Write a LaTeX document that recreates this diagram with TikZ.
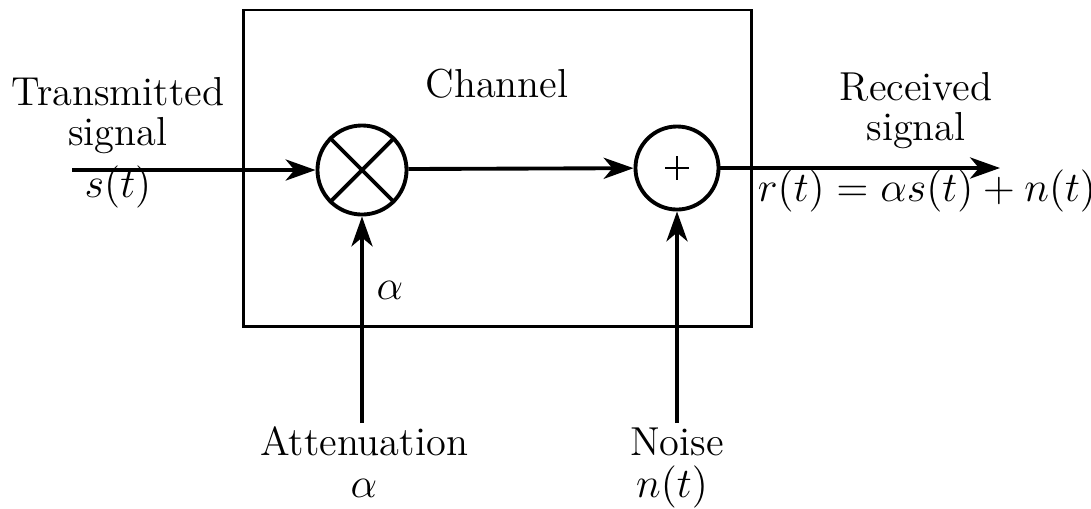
\documentclass[tikz,border=0pt]{standalone}
\usepackage{tikz}
\usetikzlibrary{arrows.meta, positioning, calc}
\usepackage{amsmath, amssymb}

\begin{document}
\begin{tikzpicture}[
        x=0.01cm, y=-0.01cm,
        lbl/.style={anchor=base, inner sep=0pt, font=\fontsize{11.5}{13.5}\selectfont},
        junction/.style={circle, draw, line width=1.1pt, minimum size=#1, inner sep=0pt},
        arrow/.style={-{Stealth[length=8.5pt, width=6pt, inset=2.5pt]}, line width=1.1pt}
    ]
        \useasboundingbox (0,0) rectangle (1091,508);

        \node[draw, line width=0.8pt, minimum width=5.07cm, minimum height=3.16cm] (chan) at (497.5,168) {};
        \node[lbl] (chanlbl) at (497,97) {Channel};

        \node[junction=0.89cm] (mult) at (362,170) {};
        \node[junction=0.83cm] (add) at (677,168) {};
        \draw[line width=1.1pt] (mult.north west) -- (mult.south east);
        \draw[line width=1.1pt] (mult.north east) -- (mult.south west);
        \draw[line width=0.7pt] ($(add)+(-12,0)$) -- ($(add)+(12,0)$);
        \draw[line width=0.7pt] ($(add)+(0,-12)$) -- ($(add)+(0,12)$);

        \coordinate (sin) at (72,170);
        \coordinate (rout) at (1000,168);
        \coordinate (attsrc) at (362,423);
        \coordinate (noisrc) at (677,423);

        \node[lbl] (tx1) at (118,105) {Transmitted};
        \node[lbl] (tx2) at (118,145) {signal};
        \node[lbl] (st) at (118,197) {$s(t)$};
        \node[lbl] (rx1) at (916,100) {Received};
        \node[lbl] (rx2) at (916,140) {signal};
        \node[lbl] (rt) at (927,201) {$r(t) = \alpha s(t) + n(t)$};
        \node[lbl] (alin) at (390,299) {$\alpha$};
        \node[lbl] (att) at (364,455) {Attenuation};
        \node[lbl] (atta) at (364,497) {$\alpha$};
        \node[lbl] (noi) at (677,455) {Noise};
        \node[lbl] (noin) at (672,497) {$n(t)$};

        \draw[arrow] (sin) -- (mult);
        \draw[arrow] ($(mult.east)+(0,-1)$) -- (add);
        \draw[arrow] (add) -- (rout);
        \draw[arrow] (attsrc) -- (mult);
        \draw[arrow] (noisrc) -- (add);
    \end{tikzpicture}
\end{document}
